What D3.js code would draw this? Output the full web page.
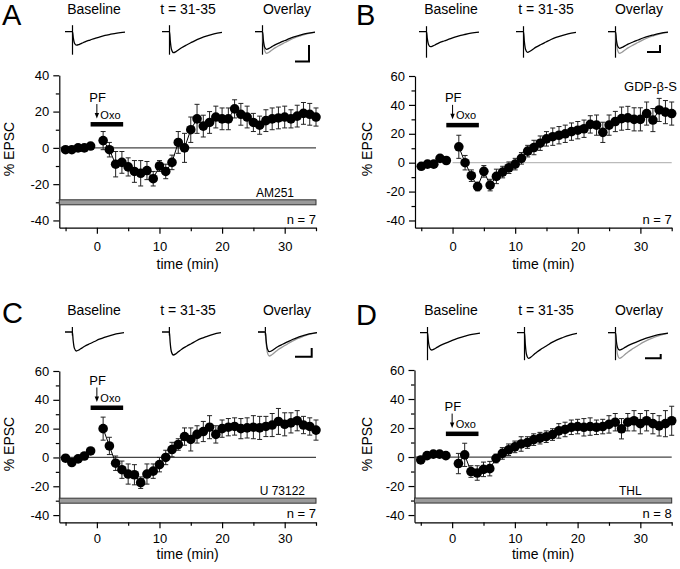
<!DOCTYPE html>
<html><head><meta charset="utf-8">
<script src="https://cdn.jsdelivr.net/npm/d3@7"></script>
<style>
body{margin:0;background:#fff}
svg{display:block}
text{font-family:"Liberation Sans",Arial,Helvetica,sans-serif;fill:#000}
</style>
</head><body>
<svg id="chart" width="680" height="569"></svg>
<script>
// ---------------- DATA ----------------
const minutes = [-5,-4,-3,-2,-1,1,2,3,4,5,6,7,8,9,10,11,12,13,14,15,16,17,18,19,20,21,22,23,24,25,26,27,28,29,30,31,32,33,34,35];

const epscA = [-1,-1,0,0,1, 4,-1,-9,-8,-10.5,-13,-14,-12.5,-17,-10,-13,-8,3,0,10,16,12,14,17,16,16,21.5,18.5,17,14,12.5,15,16,16.5,17,16,17.5,19,18.5,17];
const semA  = [1,1,1,1,1, 5,4,7,6,5,6,7,5,4,3,4,4,6,8,7,8,6,6,6,6,6,5,6,6,5,5,6,6,6,6,5,6,6,6,5];

const epscB = [-2.5,-1,-1,3,1.5, 11,0,-9,-16.5,-6,-15.5,-9.5,-6.5,-3.5,-1,3,8,10.5,13.5,16.5,18,19,20,21.5,22.5,23.5,26.5,26,21,26,28.5,30.5,31,30,30,34,29.5,36.5,35,34];
const semB  = [1.5,1.5,1.5,1.5,1.5, 8,5,4,3,4,4,5,4,4,4,4,4,5,5,5,6,6,6,6,6,6,6,7,7,7,7,8,8,8,8,8,8,8,8,8];

const epscC = [-0.5,-3.5,-1,1,4.5, 20,8,-4,-8.5,-11.5,-12,-17.5,-11.5,-9.5,-5,0,5.5,9,14.5,12.5,16,18,21,16,20,21,21.5,20,20.5,21,20.5,21.5,22.5,25,23,24,25.5,22.5,21.5,19];
const semC  = [1,1,1,1,1, 8,6,5,6,7,7,4,7,5,5,5,5,4,6,8,6,7,8,6,6,6,6,7,7,8,8,7,8,9,8,7,7,6,6,7];

const epscD = [-2,1,2,2,1, -4.5,1.5,-10,-11,-8.5,-8,-1,2.5,5,7,9,10,12,13,14,15.5,18,19,20.5,21,20.5,21,20.5,21,22.5,24,19.5,24,25,23,25,23,21.5,23,25];
const semD  = [1,1,1,1,1, 7,8,4,5,5,5,3,4,4,4,5,4,4,4,4,4,5,5,5,5,6,6,5,5,6,6,7,6,7,7,7,7,7,9,10];

const xMajorTicks = [0,10,20,30];
const xMinorTicks = [-5,5,15,25,35];
const yMajorTicksA = [-40,-20,0,20,40];
const yMinorTicksA = [-30,-10,10,30];
const yMajorTicks = [-40,-20,0,20,40,60];
const yMinorTicks = [-30,-10,10,30,50];

const panelLetters = ["A","B","C","D"];
const insetTitles = ["Baseline","t = 31-35","Overlay"];
const drugNames = ["AM251","GDP-\u03B2-S","U 73122","THL"];
const nCells = [7,7,7,8];
const oxoBarLevel = [13,26,34.5,16];   // % EPSC level of the PF/Oxo bar
const oxoWindow = [-1,4.2];            // minutes
const drugLevel = -30;

// EPSC waveform template (time ms, normalised current)
const waveT = [0,7.5,8.3,9.5,11.5,14,17,20,25,30,35,40,45,52,60];
const waveI = [0,0,-0.45,-0.85,-1,-0.95,-0.85,-0.75,-0.62,-0.5,-0.38,-0.28,-0.2,-0.1,-0.03];
// amplitudes: baseline, t=31-35, overlay black, overlay grey
const ampA = [13.5,21,17.6,21.6];
const ampB = [15,20.6,16.6,21.6];
const ampC = [19,23,19.7,24];
const ampD = [17.3,25.6,17.3,25.6];

// ---------------- LAYOUT ----------------
const svg = d3.select("#chart");
const means = [epscA,epscB,epscC,epscD];
const sems = [semA,semB,semC,semD];
const amps = [ampA,ampB,ampC,ampD];

const layout = [
  {xr:[59.3,316], yd:[-44,40], yr:[227.7,75.3], yMaj:yMajorTicksA, yMin:yMinorTicksA, zero:"#444", zeroFrom:-6,
   letter:[2,25], titleY:13.5, titleX:[94,188,287], traceBase:31.7, traceX:[65,162,255], traceW:60, art:[6.5,23],
   scale:[295,309,45,61.5], drugBar:true, drugText:{dx:-22}, ylabX:14, ylabY:149, timeY:268.5, tpad:8},
  {xr:[415,671.7], yd:[-45,60], yr:[227.7,76], yMaj:yMajorTicks, yMin:yMinorTicks, zero:"#bbb", zeroFrom:0,
   letter:[356,25], titleY:13.5, titleX:[451,546,639], traceBase:31.7, traceX:[419,516,608], traceW:60, art:[5.5,26],
   scale:[647,660,45,52], drugBar:false, drugText:{x:677,y:91}, ylabX:371.5, ylabY:149, timeY:268.5, tpad:8},
  {xr:[59.3,316], yd:[-45,60], yr:[522.3,371], yMaj:yMajorTicks, yMin:yMinorTicks, zero:"#444", zeroFrom:-6,
   letter:[2,323], titleY:315, titleX:[94,188,287], traceBase:332, traceX:[65,162,258], traceW:59, art:[5,3.5],
   scale:[295,311.7,348,356.7], drugBar:true, drugText:{dx:-11}, ylabX:14, ylabY:444, timeY:558.5, tpad:5.5},
  {xr:[414.5,671.7], yd:[-45,60], yr:[522.3,370], yMaj:yMajorTicks, yMin:yMinorTicks, zero:"#444", zeroFrom:-6,
   letter:[356,325], titleY:315, titleX:[451,546,639], traceBase:332.7, traceX:[420,517,608], traceW:60, art:[5.7,27.5],
   scale:[645,660.7,354,358.3], drugBar:true, drugText:{dx:-30}, ylabX:371.5, ylabY:444, timeY:558.5, tpad:5.5}
];

const fmt = d => String(d);

layout.forEach((L, i) => {
  const g = svg.append("g");
  const x = d3.scaleLinear().domain([-6,35]).range(L.xr);
  const y = d3.scaleLinear().domain(L.yd).range(L.yr);
  const x0 = L.xr[0], yBottom = L.yr[0];

  // panel letter
  g.append("text").attr("x",L.letter[0]).attr("y",L.letter[1]).attr("font-size",29).text(panelLetters[i]);

  // inset titles
  insetTitles.forEach((t,k)=>{
    g.append("text").attr("x",L.titleX[k]).attr("y",L.titleY).attr("text-anchor","middle")
      .attr("font-size",14).text(t);
  });

  // inset traces
  const amp = amps[i];
  const drawTrace = (xs, a, color) => {
    const ys = d3.scaleLinear().domain([-1,0]).range([L.traceBase + a, L.traceBase]);
    const line = d3.line().x(d=>xs(d[0])).y(d=>ys(d[1])).curve(d3.curveMonotoneX);
    g.append("path").attr("d",line(waveT.map((t,j)=>[t,waveI[j]])))
      .attr("fill","none").attr("stroke",color).attr("stroke-width",1.3);
  };
  const drawArtifact = (xs) => {
    g.append("line").attr("x1",xs(7.5)).attr("x2",xs(7.5))
      .attr("y1",L.traceBase - L.art[0]).attr("y2",L.traceBase + L.art[1])
      .attr("stroke","#000").attr("stroke-width",1.2);
  };
  for (let k=0;k<3;k++){
    const xs = d3.scaleLinear().domain([0,60]).range([L.traceX[k], L.traceX[k]+L.traceW]);
    drawArtifact(xs);
    if (k<2){
      drawTrace(xs, amp[k], "#000");
    } else {
      drawTrace(xs, amp[3], "#999");
      drawTrace(xs, amp[2], "#000");
    }
  }
  // scale bar
  const s = L.scale;
  g.append("path").attr("d",`M${s[0]},${s[3]}H${s[1]}V${s[2]}`)
    .attr("fill","none").attr("stroke","#000").attr("stroke-width",2);

  // axes
  const yAx = d3.axisLeft(y).tickValues(L.yMaj).tickSize(6).tickSizeOuter(0).tickPadding(4).tickFormat(fmt);
  const gy = g.append("g").attr("transform",`translate(${x0},0)`).call(yAx);
  const yAxMin = d3.axisLeft(y).tickValues(L.yMin).tickSize(3.5).tickSizeOuter(0).tickFormat("");
  const gym = g.append("g").attr("transform",`translate(${x0},0)`).call(yAxMin);
  gym.select(".domain").remove();

  const xAx = d3.axisBottom(x).tickValues(xMajorTicks).tickSize(6).tickSizeOuter(0).tickPadding(L.tpad).tickFormat(fmt);
  const gx = g.append("g").attr("transform",`translate(0,${yBottom})`).call(xAx);
  const xAxMin = d3.axisBottom(x).tickValues(xMinorTicks).tickSize(3.5).tickSizeOuter(0).tickFormat("");
  const gxm = g.append("g").attr("transform",`translate(0,${yBottom})`).call(xAxMin);
  gxm.select(".domain").remove();

  [gy,gym,gx,gxm].forEach(a=>{
    a.selectAll("text").attr("font-size",13).attr("font-family",'"Liberation Sans",Arial,sans-serif').attr("fill","#000");
    a.selectAll("line,path").attr("stroke","#000").attr("stroke-width",1.2);
  });

  // axis labels
  g.append("text").attr("transform",`translate(${L.ylabX},${L.ylabY}) rotate(-90)`)
    .attr("text-anchor","middle").attr("font-size",14).text("% EPSC");
  g.append("text").attr("x",(x(-6)+x(35))/2).attr("y",L.timeY).attr("text-anchor","middle")
    .attr("font-size",14).text("time (min)");

  // zero line
  g.append("line").attr("x1",x(L.zeroFrom)).attr("x2",x(35)).attr("y1",y(0)).attr("y2",y(0))
    .attr("stroke",L.zero).attr("stroke-width",1.2);

  // drug bar + label
  if (L.drugBar){
    g.append("rect").attr("x",x(-6)).attr("y",y(drugLevel)-2.5).attr("width",x(35)-x(-6)).attr("height",5)
      .attr("fill","#9a9a9a").attr("stroke","#333").attr("stroke-width",1);
    g.append("text").attr("x",x(35)+L.drugText.dx).attr("y",y(drugLevel)-5.5).attr("text-anchor","end")
      .attr("font-size",12).text(drugNames[i]);
  } else {
    g.append("text").attr("x",L.drugText.x).attr("y",L.drugText.y).attr("text-anchor","end")
      .attr("font-size",13).text(drugNames[i]);
  }
  // n label
  g.append("text").attr("x",x(35)).attr("y",yBottom-4).attr("text-anchor","end").attr("font-size",13)
    .text("n = " + nCells[i]);

  // PF / Oxo annotation
  const barTop = y(oxoBarLevel[i]) - 2.25;
  g.append("rect").attr("x",x(oxoWindow[0])).attr("y",barTop).attr("width",x(oxoWindow[1])-x(oxoWindow[0]))
    .attr("height",4.5).attr("fill","#000");
  g.append("text").attr("x",x(0)+0.7).attr("y",barTop-20.5).attr("text-anchor","middle").attr("font-size",13).text("PF");
  g.append("line").attr("x1",x(0)).attr("x2",x(0)).attr("y1",barTop-18).attr("y2",barTop-8)
    .attr("stroke","#000").attr("stroke-width",1);
  g.append("path").attr("d",`M${x(0)-2.2},${barTop-9}L${x(0)+2.2},${barTop-9}L${x(0)},${barTop-3.5}Z`).attr("fill","#000");
  g.append("text").attr("x",x(0)+3.5).attr("y",barTop-3.4).attr("font-size",11).text("Oxo");

  // data
  const pts = minutes.map((m,j)=>({m, v:means[i][j], e:sems[i][j]}));
  const eb = g.append("g").attr("stroke","#222").attr("stroke-width",1);
  pts.forEach(p=>{
    const cx = x(p.m);
    eb.append("line").attr("x1",cx).attr("x2",cx).attr("y1",y(p.v+p.e)).attr("y2",y(p.v-p.e));
    eb.append("line").attr("x1",cx-2.5).attr("x2",cx+2.5).attr("y1",y(p.v+p.e)).attr("y2",y(p.v+p.e));
    eb.append("line").attr("x1",cx-2.5).attr("x2",cx+2.5).attr("y1",y(p.v-p.e)).attr("y2",y(p.v-p.e));
  });
  const ln = d3.line().x(d=>x(d.m)).y(d=>y(d.v));
  g.append("path").attr("d",ln(pts.filter(p=>p.m<0))).attr("fill","none").attr("stroke","#000").attr("stroke-width",1);
  g.append("path").attr("d",ln(pts.filter(p=>p.m>0))).attr("fill","none").attr("stroke","#000").attr("stroke-width",1);
  g.append("g").selectAll("circle").data(pts).join("circle")
    .attr("cx",d=>x(d.m)).attr("cy",d=>y(d.v)).attr("r",4.8).attr("fill","#000");
});
</script>
</body></html>
